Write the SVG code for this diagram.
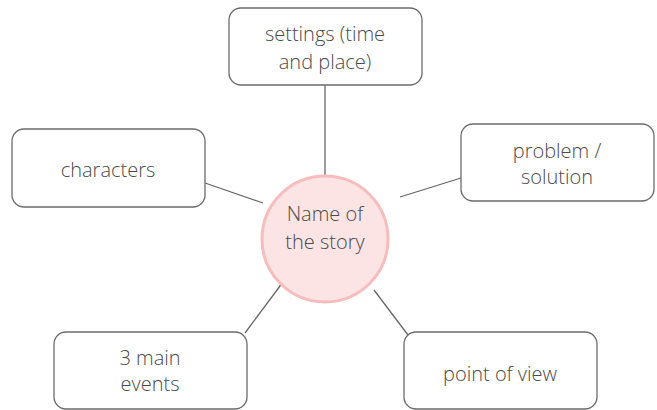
<svg xmlns="http://www.w3.org/2000/svg" width="657" height="410" viewBox="0 0 657 410">
<style>
.box{fill:#fff;stroke:#6b6b6b;stroke-width:1.3}
.t{font-family:"Open Sans","Noto Sans",sans-serif;font-weight:300;font-size:20px;fill:#4a4a4a;text-anchor:middle}
.c{stroke:#666;stroke-width:1.3;fill:none}
</style>
<rect width="657" height="410" fill="#fff"/>
<g id="connectors">
<line class="c" x1="325" y1="85" x2="325" y2="177"/>
<line class="c" x1="205" y1="183" x2="263" y2="203"/>
<line class="c" x1="461" y1="178" x2="400" y2="197"/>
<line class="c" x1="245" y1="333" x2="283" y2="282"/>
<line class="c" x1="408" y1="335" x2="374" y2="290"/>
</g>
<g id="center">
<circle cx="325" cy="239" r="63" fill="#fde4e4" stroke="#f7bcbc" stroke-width="3"/>
<text class="t" x="325" y="221">Name of</text>
<text class="t" x="325" y="249">the story</text>
</g>
<g id="settings">
<rect class="box" x="229" y="8" width="193" height="77" rx="12"/>
<text class="t" x="325" y="41">settings (time</text>
<text class="t" x="325" y="69">and place)</text>
</g>
<g id="characters">
<rect class="box" x="12" y="129" width="193" height="78" rx="12"/>
<text class="t" x="108" y="177">characters</text>
</g>
<g id="problem">
<rect class="box" x="461" y="124" width="193" height="77" rx="12"/>
<text class="t" x="557" y="158">problem /</text>
<text class="t" x="557" y="184">solution</text>
</g>
<g id="events">
<rect class="box" x="54" y="332" width="193" height="77" rx="12"/>
<text class="t" x="150" y="365">3 main</text>
<text class="t" x="150" y="391">events</text>
</g>
<g id="pov">
<rect class="box" x="404" y="332" width="193" height="77" rx="12"/>
<text class="t" x="500" y="381">point of view</text>
</g>
</svg>
